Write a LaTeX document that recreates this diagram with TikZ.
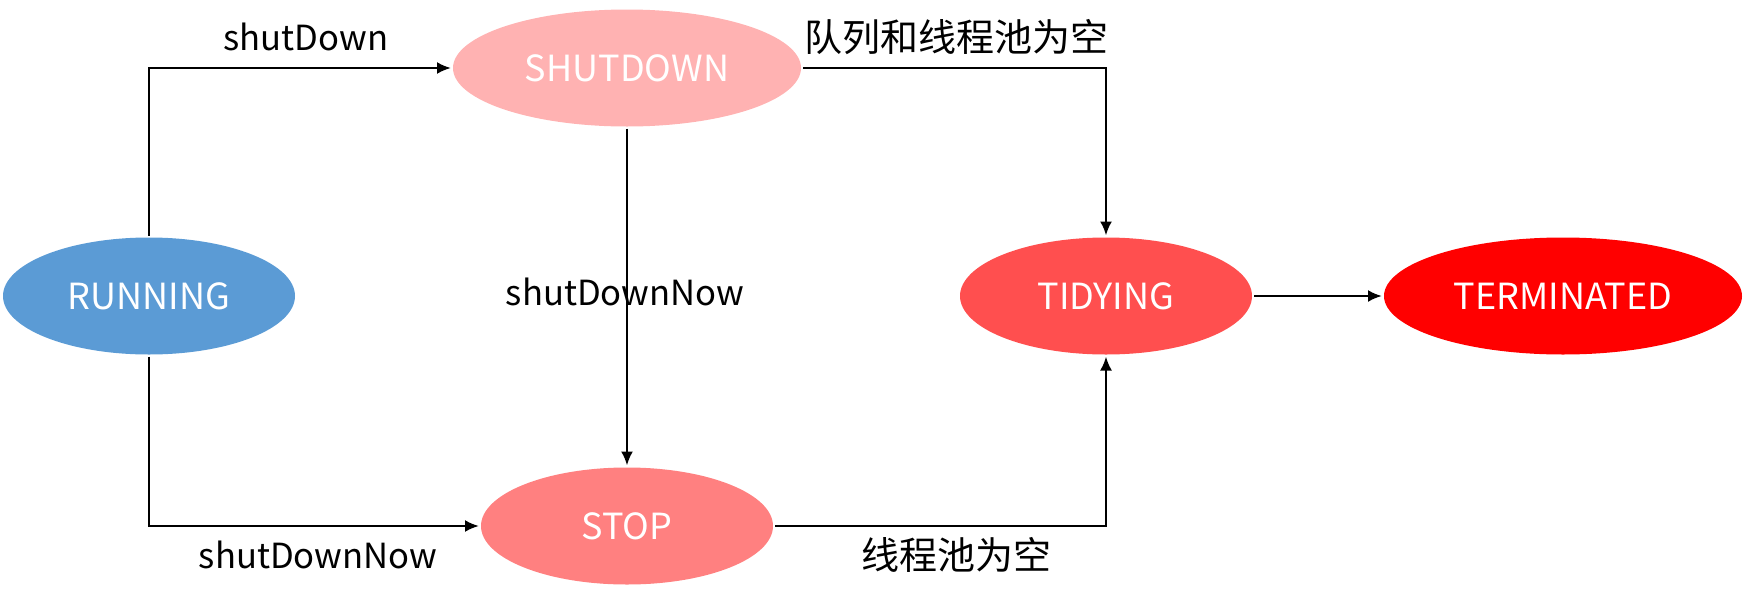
\documentclass[tikz,border=0pt]{standalone}
\usepackage{fontspec}
\setmainfont{Noto Sans CJK SC}
\usetikzlibrary{arrows.meta,shapes.geometric}
\definecolor{runblue}{RGB}{91,155,213}
\definecolor{sdpink}{RGB}{255,178,178}
\definecolor{stoppink}{RGB}{255,128,128}
\definecolor{tidyred}{RGB}{255,79,79}
\definecolor{termred}{RGB}{255,0,0}
\begin{document}
\begin{tikzpicture}[x=0.5pt,y=-0.5pt,
  state/.style={ellipse, inner sep=0pt, outer sep=1pt, text=white,
    font=\fontsize{18}{21}\selectfont, minimum height=58.5pt},
  lbl/.style={font=\fontsize{17.3}{20}\selectfont, text=black, inner sep=0pt},
  cnlbl/.style={font=\fontsize{19}{22}\selectfont, text=black, inner sep=0pt},
  conn/.style={line width=1.2pt, -{Latex[length=7pt,width=6pt]}}]
\useasboundingbox (0,0) rectangle (1746,600);
\node[state, fill=runblue, minimum width=146pt] (run) at (149,296) {RUNNING};
\node[state, fill=sdpink, minimum width=174pt] (sd) at (627,68) {SHUTDOWN};
\node[state, fill=stoppink, minimum width=146pt] (stop) at (627,526) {STOP};
\node[state, fill=tidyred, minimum width=146pt] (tidy) at (1106,296) {TIDYING};
\node[state, fill=termred, minimum width=179pt] (term) at (1563,296) {TERMINATED};
\draw[conn] (run.north) |- (sd.west);
\draw[conn] (run.south) |- (stop.west);
\draw[conn] (sd.south) -- (stop.north);
\draw[conn] (sd.east) -| (tidy.north);
\draw[conn] (stop.east) -| (tidy.south);
\draw[conn] (tidy.east) -- (term.west);
\node[lbl] (l1) at (306,37) {shutDown};
\node[cnlbl] (l2) at (956,37) {队列和线程池为空};
\node[lbl] (l3) at (625,292) {shutDownNow};
\node[lbl] (l4) at (318,555) {shutDownNow};
\node[cnlbl] (l5) at (956,555) {线程池为空};
\end{tikzpicture}
\end{document}
